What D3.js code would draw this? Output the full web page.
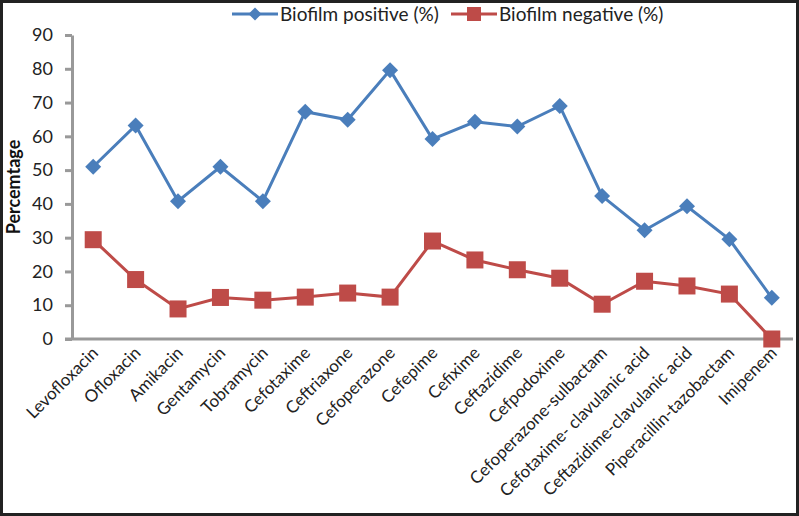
<!DOCTYPE html>
<html>
<head>
<meta charset="utf-8">
<script src="https://cdn.jsdelivr.net/npm/d3@7"></script>
<style>
  body { margin: 0; background: #fff; }
  svg { display: block; font-family: Lato, "Open Sans", sans-serif; }
</style>
</head>
<body>
<div id="chart"></div>
<script>
// antibiotics on the x axis
const drugs = [
  "Levofloxacin", "Ofloxacin", "Amikacin", "Gentamycin", "Tobramycin",
  "Cefotaxime", "Ceftriaxone", "Cefoperazone", "Cefepime", "Cefixime",
  "Ceftazidime", "Cefpodoxime", "Cefoperazone-sulbactam",
  "Cefotaxime- clavulanic acid", "Ceftazidime-clavulanic acid",
  "Piperacillin-tazobactam", "Imipenem"
];
const positive = [51, 63.2, 40.8, 51, 40.8, 67.3, 64.9, 79.6, 59.2, 64.3, 62.9, 69.0, 42.3, 32.2, 39.3, 29.5, 12.2];
const negative = [29.4, 17.6, 8.9, 12.3, 11.5, 12.4, 13.6, 12.4, 29.0, 23.4, 20.5, 18.0, 10.3, 17.1, 15.7, 13.3, 0];
const yTicks = [0, 10, 20, 30, 40, 50, 60, 70, 80, 90];

const W = 799, H = 516;
const margin = { top: 35, right: 6, bottom: 177, left: 72 };

const svg = d3.select("#chart").append("svg")
  .attr("width", W)
  .attr("height", H);

// outer frame
svg.append("rect")
  .attr("x", 1.5).attr("y", 1.5)
  .attr("width", W - 3).attr("height", H - 3)
  .attr("fill", "none")
  .attr("stroke", "#222")
  .attr("stroke-width", 3);

const x = d3.scalePoint()
  .domain(drugs)
  .range([margin.left, W - margin.right])
  .padding(0.5);

const y = d3.scaleLinear()
  .domain([0, 90])
  .range([H - margin.bottom, margin.top]);

const axisColor = "#999";

// y axis
const yAxis = svg.append("g")
  .attr("transform", `translate(${margin.left},0)`)
  .call(d3.axisLeft(y).tickValues(yTicks).tickSize(7).tickSizeOuter(0).tickPadding(12));
yAxis.select(".domain").attr("stroke", axisColor).attr("stroke-width", 3);
yAxis.selectAll(".tick line").attr("stroke", axisColor).attr("stroke-width", 3);
yAxis.selectAll(".tick text")
  .attr("fill", "#222")
  .style("font-family", "Lato, sans-serif")
  .style("font-size", "18px");

// x axis line
svg.append("line")
  .attr("x1", margin.left - 7)
  .attr("x2", W - margin.right)
  .attr("y1", y(0)).attr("y2", y(0))
  .attr("stroke", axisColor)
  .attr("stroke-width", 3);

// rotated category labels
svg.selectAll(".xlabel")
  .data(drugs)
  .enter()
  .append("text")
  .attr("class", "xlabel")
  .attr("transform", d => `translate(${x(d) + 6},${y(0) + 15}) rotate(-45)`)
  .attr("text-anchor", "end")
  .attr("fill", "#222")
  .style("font-size", "17px")
  .text(d => d);

// y title
svg.append("text")
  .attr("transform", `translate(20,${(y(0) + y(90)) / 2}) rotate(-90)`)
  .attr("text-anchor", "middle")
  .style("font-size", "18px")
  .style("font-weight", "bold")
  .attr("fill", "#111")
  .text("Percemtage");

const series = [
  { name: "Biofilm positive (%)", values: positive, color: "#4a7ebb", shape: "diamond" },
  { name: "Biofilm negative (%)", values: negative, color: "#be4b48", shape: "square" }
];

const line = d3.line()
  .x((d, i) => x(drugs[i]))
  .y(d => y(d));

function drawMarker(g, shape, color, r) {
  if (shape === "diamond") {
    g.append("path")
      .attr("d", `M0,${-r} L${r},0 L0,${r} L${-r},0 Z`)
      .attr("fill", color);
  } else {
    g.append("rect")
      .attr("x", -r).attr("y", -r)
      .attr("width", 2 * r).attr("height", 2 * r)
      .attr("fill", color);
  }
}

series.forEach(s => {
  svg.append("path")
    .datum(s.values)
    .attr("d", line)
    .attr("fill", "none")
    .attr("stroke", s.color)
    .attr("stroke-width", 3);

  s.values.forEach((v, i) => {
    const g = svg.append("g")
      .attr("transform", `translate(${x(drugs[i])},${y(v)})`);
    drawMarker(g, s.shape, s.color, s.shape === "diamond" ? 8 : 8.5);
  });
});

// legend
const legendPos = [232, 451];
series.forEach((s, i) => {
  const lg = svg.append("g").attr("transform", `translate(${legendPos[i]},14)`);
  lg.append("line")
    .attr("x1", 0).attr("x2", 46)
    .attr("stroke", s.color)
    .attr("stroke-width", 3);
  const m = lg.append("g").attr("transform", "translate(23,0)");
  drawMarker(m, s.shape, s.color, s.shape === "diamond" ? 6.5 : 7);
  lg.append("text")
    .attr("x", 48)
    .attr("y", 6.5)
    .attr("fill", "#222")
    .style("font-size", "19px")
    .text(s.name);
});
</script>
</body>
</html>
